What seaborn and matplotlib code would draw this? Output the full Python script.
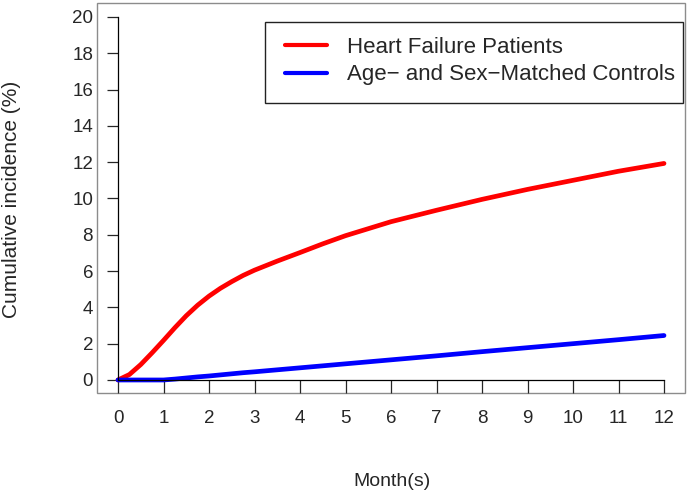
"""
Cumulative incidence over the first year for heart failure patients
and age- and sex-matched controls, redrawn with seaborn.
"""

import pandas as pd
import seaborn as sns
import matplotlib.pyplot as plt
from matplotlib.patches import Rectangle

# data
months = [0, 0.25, 0.5, 0.75, 1, 1.25, 1.5, 1.75, 2, 2.25, 2.5, 2.75, 3,
          3.5, 4, 4.5, 5, 6, 7, 8, 9, 10, 11, 12]
hf_incidence = [0, 0.3, 0.85, 1.5, 2.18, 2.88, 3.54, 4.12, 4.62, 5.05,
                5.42, 5.76, 6.05, 6.55, 7.02, 7.5, 7.95, 8.72, 9.35, 9.95,
                10.5, 11.0, 11.5, 11.93]
ctrl_incidence = [0, 0, 0, 0, 0, 0.05, 0.11, 0.17, 0.22, 0.28, 0.34, 0.4,
                  0.45, 0.56, 0.67, 0.78, 0.89, 1.11, 1.33, 1.56, 1.78,
                  2.0, 2.22, 2.45]
group_names = ["Heart Failure Patients",
               "Age\u2212 and Sex\u2212Matched Controls"]
x_ticks = list(range(0, 13))
y_ticks = list(range(0, 21, 2))

sns.set_style("white")
plt.rcParams["font.family"] = ["Liberation Sans", "DejaVu Sans"]


def build_frame():
    """Long form table with one row per month and group."""
    hf = pd.DataFrame({"Month": months, "Incidence": hf_incidence,
                       "Group": group_names[0]})
    ctrl = pd.DataFrame({"Month": months, "Incidence": ctrl_incidence,
                         "Group": group_names[1]})
    return pd.concat([hf, ctrl], ignore_index=True)


def main():
    data = build_frame()
    fig = plt.figure(figsize=(6.89, 4.96), dpi=100)
    ax = fig.add_axes([0.1408, 0.2077, 0.8534, 0.7863])

    sns.lineplot(data=data, x="Month", y="Incidence", hue="Group",
                 palette=["#FF0000", "#0000FF"], linewidth=3.4,
                 solid_capstyle="round", ax=ax, legend=False)

    ax.set_xlim(-0.4615, 12.4615)
    ax.set_ylim(-0.716, 20.77)

    # R style axes drawn at the data origin, grey box round the plot region
    for side in ["top", "right"]:
        ax.spines[side].set_visible(False)
    ax.spines["bottom"].set_position(("data", 0))
    ax.spines["left"].set_position(("data", 0))
    ax.spines["bottom"].set_bounds(0, 12)
    ax.spines["left"].set_bounds(0, 20)
    for side in ["bottom", "left"]:
        ax.spines[side].set_color("black")
        ax.spines[side].set_linewidth(0.9)
    ax.add_patch(Rectangle((0, 0), 1, 1, transform=ax.transAxes,
                           fill=False, edgecolor="#8c8c8c", linewidth=1.0,
                           clip_on=False, zorder=0))

    ax.set_xticks(x_ticks)
    ax.set_yticks(y_ticks)
    ax.tick_params(axis="x", direction="out", length=9.4, width=0.9,
                   pad=12.5, labelsize=13.5, bottom=True)
    ax.tick_params(axis="y", direction="out", length=8.0, width=0.9,
                   pad=10, labelsize=13.5, left=True)

    ax.set_xlabel("")
    ax.set_ylabel("")
    fig.text(392 / 689, 1 - 481 / 496, "Month(s)", ha="center",
             va="center", fontsize=14)
    fig.text(12 / 689, 1 - 199 / 496, "Cumulative incidence (%)",
             ha="center", va="center", rotation=90, fontsize=15)

    # legend entries without a frame, box drawn separately like R's legend
    handles = [plt.Line2D([], [], color="#FF0000", linewidth=3.0),
               plt.Line2D([], [], color="#0000FF", linewidth=3.0)]
    ax.legend(handles, group_names, loc="upper left",
              bbox_to_anchor=(285 / 689, 1 - 37 / 496),
              bbox_transform=fig.transFigure, borderaxespad=0,
              borderpad=0, fontsize=16, frameon=False, handlelength=1.9,
              handletextpad=0.9, labelspacing=0.29)
    fig.patches.append(Rectangle((265 / 689, 1 - 103 / 496), 418 / 689,
                                 81 / 496, transform=fig.transFigure,
                                 fill=False, edgecolor="#222222",
                                 linewidth=1.0))

    plt.savefig("out.png", dpi=100)


if __name__ == "__main__":
    main()
